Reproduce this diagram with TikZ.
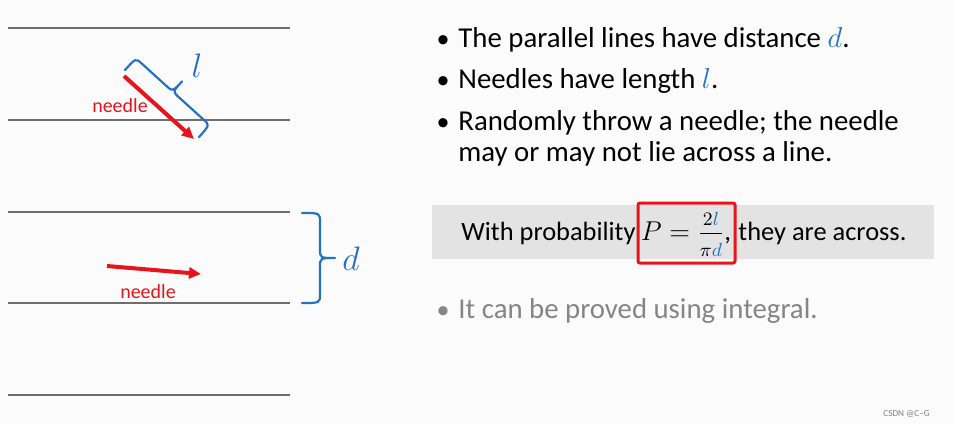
\RequirePackage{fix-cm}
\documentclass[tikz,border=0pt]{standalone}
\usepackage{fontspec}
\setmainfont{Carlito}
\usetikzlibrary{arrows.meta,calc}
\definecolor{bg}{HTML}{FBFBFB}
\definecolor{linegray}{HTML}{6E6E6E}
\definecolor{lblue}{HTML}{2372C4}
\definecolor{nred}{HTML}{E8141B}
\definecolor{boxgray}{HTML}{E3E3E3}
\definecolor{txtgray}{HTML}{858585}
\tikzset{
  hline/.style={draw=linegray, line width=1pt},
  needlearrow/.style={draw=nred, line width=2pt, -{Triangle[length=6pt,width=5.5pt]}},
  bracestyle/.style={draw=lblue, line width=1.1pt, line cap=round, line join=round},
  needlelabel/.style={text=nred, font=\fontsize{10}{12}\selectfont, inner sep=0pt},
  bodytext/.style={font=\fontsize{14.4}{17}\selectfont, inner sep=0pt, anchor=base west},
  boxtext/.style={font=\fontsize{13.2}{16}\selectfont, inner sep=0pt, anchor=base west},
  bulletmark/.style={font=\fontsize{13}{16}\selectfont, inner sep=0pt, anchor=base},
  mathlabel/.style={text=lblue, inner sep=0pt}
}
\begin{document}
\begin{tikzpicture}[x=0.5pt,y=-0.5pt]
\fill[bg] (0,0) rectangle (953,425);
\useasboundingbox (0,0) rectangle (953,425);

% parallel lines
\foreach \yy/\nn in {28/a,120/b,212/c,303/e,395/f}{
  \draw[hline] (8,\yy) coordinate (L\nn w) -- (290,\yy) coordinate (L\nn e);
}

% top needle
\coordinate (n1s) at (124,76);
\coordinate (n1e) at (194,139);
\draw[needlearrow] (n1s) -- (n1e);
\node[needlelabel] (n1lab) at (120,106) {needle};

% brace for l
\coordinate (bA) at (125,70);
\coordinate (bA1) at (135.7,58.1);
\coordinate (bA2) at (141.7,63.5);
\coordinate (bP3) at (166.8,86.3);
\coordinate (bM1) at (172.7,91.6);
\coordinate (bT) at (182.0,81.4);
\coordinate (bP4) at (178.6,97.0);
\coordinate (bP5) at (203.8,119.8);
\coordinate (bB1) at (209.7,125.1);
\coordinate (bB) at (199,137);
\draw[bracestyle] (bA) .. controls (bA1) .. (bA2) -- (bP3) .. controls (bM1) .. (bT)
  .. controls (bM1) .. (bP4) -- (bP5) .. controls (bB1) .. (bB);
\node[mathlabel, font=\fontsize{17}{20}\selectfont] (llab) at (197,66) {$l$};

% bottom needle
\coordinate (n2s) at (107,266);
\coordinate (n2e) at (201,274);
\draw[needlearrow] (n2s) -- (n2e);
\node[needlelabel] (n2lab) at (148,292) {needle};

% brace for d
\coordinate (dA) at (302,213);
\coordinate (dB) at (302,303);
\draw[bracestyle] (dA) .. controls (320,213) .. (320,222) -- (320,249)
  .. controls (320,258) .. (335,258) .. controls (320,258) .. (320,267)
  -- (320,294) .. controls (320,303) .. (dB);
\node[mathlabel, font=\fontsize{17}{20}\selectfont] (dlab) at (351,259) {$d$};

% bullet text
\node[bulletmark] (b1) at (443,47) {•};
\node[bodytext] (t1) at (458,47) {The parallel lines have distance {\color{lblue}$d$}.};
\node[bulletmark] (b2) at (443,88) {•};
\node[bodytext] (t2) at (458,88) {Needles have length {\color{lblue}$l$}.};
\node[bulletmark] (b3) at (443,130) {•};
\node[bodytext] (t3) at (458,130) {Randomly throw a needle; the needle};
\node[bodytext] (t3b) at (458,161) {may or may not lie across a line.};

% gray box
\fill[boxgray] (432,205) rectangle (934,259);
\node[draw=nred, line width=1.5pt, rounded corners=1pt, minimum width=48.5pt, minimum height=30pt, inner sep=0pt] (pbox) at (686.5,233) {};
\node[inner sep=0pt, font=\fontsize{13.6}{16}\selectfont, anchor=base] (pmath) at (686,240)
  {$P=\frac{2{\color{lblue}l}\rule[-3.5pt]{0pt}{0pt}}{\rule{0pt}{11pt}\pi{\color{lblue}d}}$,};
\node[boxtext, anchor=base east] (wp) at (636,240) {With probability};
\node[boxtext] (ta) at (738,240) {they are across.};

% gray bullet
\node[bulletmark, text=txtgray] (b4) at (443,318) {•};
\node[bodytext, text=txtgray] (t4) at (458,318) {It can be proved using integral.};

% watermark
\node[inner sep=0pt, anchor=base west, text=gray, font=\fontsize{4.6}{5}\selectfont] (wm) at (883,416) {CSDN @C--G};
\end{tikzpicture}
\end{document}
